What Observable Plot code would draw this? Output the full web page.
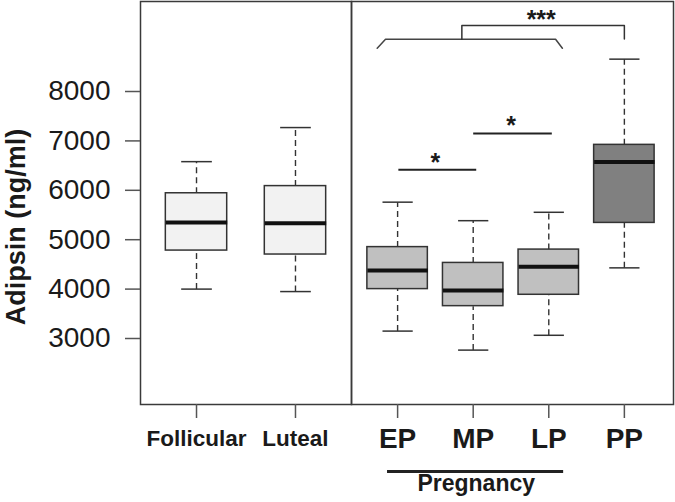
<!DOCTYPE html>
<html><head><meta charset="utf-8">
<script src="https://cdn.jsdelivr.net/npm/d3@7"></script>
<script src="https://cdn.jsdelivr.net/npm/@observablehq/plot@0.6"></script>
<style>
body{margin:0;background:#fff;}
#wrap{position:relative;width:675px;height:502px;font-family:"Liberation Sans",Arial,sans-serif;}
#left,#right{position:absolute;top:0;}
#left{left:0;} #right{left:350px;}
svg{overflow:visible;}
</style></head><body><div id="wrap"><div id="left"></div><div id="right"></div></div>
<script>
// ---- data ----
const cycleGroups = ["Follicular", "Luteal"];
const cycleMin    = [4000, 3950];
const cycleQ1     = [4780, 4700];
const cycleMedian = [5350, 5335];
const cycleQ3     = [5940, 6085];
const cycleMax    = [6580, 7270];

const pregGroups  = ["EP", "MP", "LP", "PP"];
const pregMin     = [3150, 2765, 3065, 4430];
const pregQ1      = [4000, 3655, 3885, 5340];
const pregMedian  = [4375, 3970, 4455, 6575];
const pregQ3      = [4850, 4530, 4800, 6920];
const pregMax     = [5760, 5385, 5555, 8655];
const pregFill    = ["#c0c0c0", "#c0c0c0", "#c0c0c0", "#808080"];

const yTicks = [3000, 4000, 5000, 6000, 7000, 8000];
const yLabel = "Adipsin (ng/ml)";
const groupLabel = "Pregnancy";

// significance annotations (x = group position, y = ng/ml)
const sigBarX1 = [1.01, 2.0];
const sigBarX2 = [2.04, 3.04];
const sigBarY  = [6415, 7150];
const sigStarX = [1.5, 2.5];
const sigStarY = [6560, 7305];
const sigStarText = ["*", "*"];
const braceX = [0.73, 0.84, 3.09, 3.18];
const braceY = [8877, 9059, 9059, 8877];
const bracketX = [1.85, 1.85, 4.0, 4.0];
const bracketY = [9059, 9336, 9336, 9065];
const bracketStar = {x: 2.9, y: 9450, text: "***"};
const groupSpan = {x1: 0.86, x2: 3.19, xText: 2.04};

const yDomain = [1664, 9822];

function boxes(groups, mins, q1s, meds, q3s, maxs, fills) {
  return groups.map((g, i) => ({g, pos: i + 1, min: mins[i], q1: q1s[i], med: meds[i], q3: q3s[i], max: maxs[i], fill: fills[i]}));
}

function boxMarks(data, half) {
  return [
    Plot.link(data, {x1: "pos", x2: "pos", y1: "q3", y2: "max", stroke: "#333", strokeWidth: 1.4, strokeDasharray: "6,4"}),
    Plot.link(data, {x1: "pos", x2: "pos", y1: "min", y2: "q1", stroke: "#333", strokeWidth: 1.4, strokeDasharray: "6,4"}),
    Plot.link(data, {x1: d => d.pos - half / 2, x2: d => d.pos + half / 2, y1: "max", y2: "max", stroke: "#333", strokeWidth: 1.5}),
    Plot.link(data, {x1: d => d.pos - half / 2, x2: d => d.pos + half / 2, y1: "min", y2: "min", stroke: "#333", strokeWidth: 1.5}),
    Plot.rect(data, {x1: d => d.pos - half, x2: d => d.pos + half, y1: "q1", y2: "q3", fill: "fill", stroke: "#333", strokeWidth: 1.5}),
    Plot.link(data, {x1: d => d.pos - half, x2: d => d.pos + half, y1: "med", y2: "med", stroke: "#111", strokeWidth: 4})
  ];
}

const leftData = boxes(cycleGroups, cycleMin, cycleQ1, cycleMedian, cycleQ3, cycleMax, ["#f2f2f2", "#f2f2f2"]);
const rightData = boxes(pregGroups, pregMin, pregQ1, pregMedian, pregQ3, pregMax, pregFill);

const left = Plot.plot({
  width: 352, height: 502,
  marginLeft: 140, marginRight: 1, marginTop: 1, marginBottom: 98,
  style: {fontFamily: "Liberation Sans, Arial, sans-serif", background: "transparent"},
  x: {domain: [0.434, 2.566], axis: null},
  y: {domain: yDomain, axis: null},
  marks: [
    ...boxMarks(leftData, 0.31),
    Plot.frame({stroke: "#3a3a3a", strokeWidth: 1.5}),
    Plot.axisY(yTicks, {tickSize: 15, tickPadding: 15, tickFormat: d3.format("d"), fontSize: 28, fill: "#1a1a1a", stroke: "#555", strokeWidth: 1.5, label: null}),
    Plot.axisX([1, 2], {tickSize: 14, tickPadding: 12, tickFormat: i => cycleGroups[i - 1], fontSize: 22.5, fontWeight: "bold", fill: "#1a1a1a", stroke: "#555", strokeWidth: 1.5, label: null}),
    Plot.text([yLabel], {text: d => d, frameAnchor: "left", textAnchor: "middle", dx: -124, dy: 24, rotate: -90, fontSize: 27, fontWeight: "bold", fill: "#1a1a1a"})
  ]
});

const pts = (xs, ys) => xs.map((x, i) => ({x, y: ys[i]}));

const right = Plot.plot({
  width: 325, height: 502,
  marginLeft: 1, marginRight: 2, marginTop: 1, marginBottom: 98,
  style: {fontFamily: "Liberation Sans, Arial, sans-serif", background: "transparent"},
  x: {domain: [0.39, 4.65], axis: null},
  y: {domain: yDomain, axis: null},
  marks: [
    ...boxMarks(rightData, 0.4),
    Plot.frame({stroke: "#3a3a3a", strokeWidth: 1.5}),
    Plot.axisX([1, 2, 3, 4], {tickSize: 14, tickPadding: 10, tickFormat: i => pregGroups[i - 1], fontSize: 28, fontWeight: "bold", fill: "#1a1a1a", stroke: "#555", strokeWidth: 1.5, label: null}),
    Plot.link(sigBarX1.map((x, i) => ({x1: x, x2: sigBarX2[i], y: sigBarY[i]})), {x1: "x1", x2: "x2", y1: "y", y2: "y", stroke: "#222", strokeWidth: 2}),
    Plot.text(sigStarX.map((x, i) => ({x, y: sigStarY[i], t: sigStarText[i]})), {x: "x", y: "y", text: "t", fontSize: 25, fontWeight: "bold", fill: "#1a1a1a"}),
    Plot.line(pts(braceX, braceY), {x: "x", y: "y", stroke: "#444", strokeWidth: 1.5}),
    Plot.line(pts(bracketX, bracketY), {x: "x", y: "y", stroke: "#333", strokeWidth: 1.5}),
    Plot.text([bracketStar], {x: "x", y: "y", text: "text", fontSize: 25, fontWeight: "bold", fill: "#1a1a1a"}),
    Plot.link([groupSpan], {x1: "x1", x2: "x2", y1: () => yDomain[0], y2: () => yDomain[0], dy: 67, stroke: "#222", strokeWidth: 3}),
    Plot.text([groupSpan], {x: "xText", frameAnchor: "bottom", text: () => groupLabel, dy: 86, fontSize: 23, fontWeight: "bold", fill: "#1a1a1a"})
  ]
});

document.getElementById("left").appendChild(left);
document.getElementById("right").appendChild(right);
</script>
</body></html>
